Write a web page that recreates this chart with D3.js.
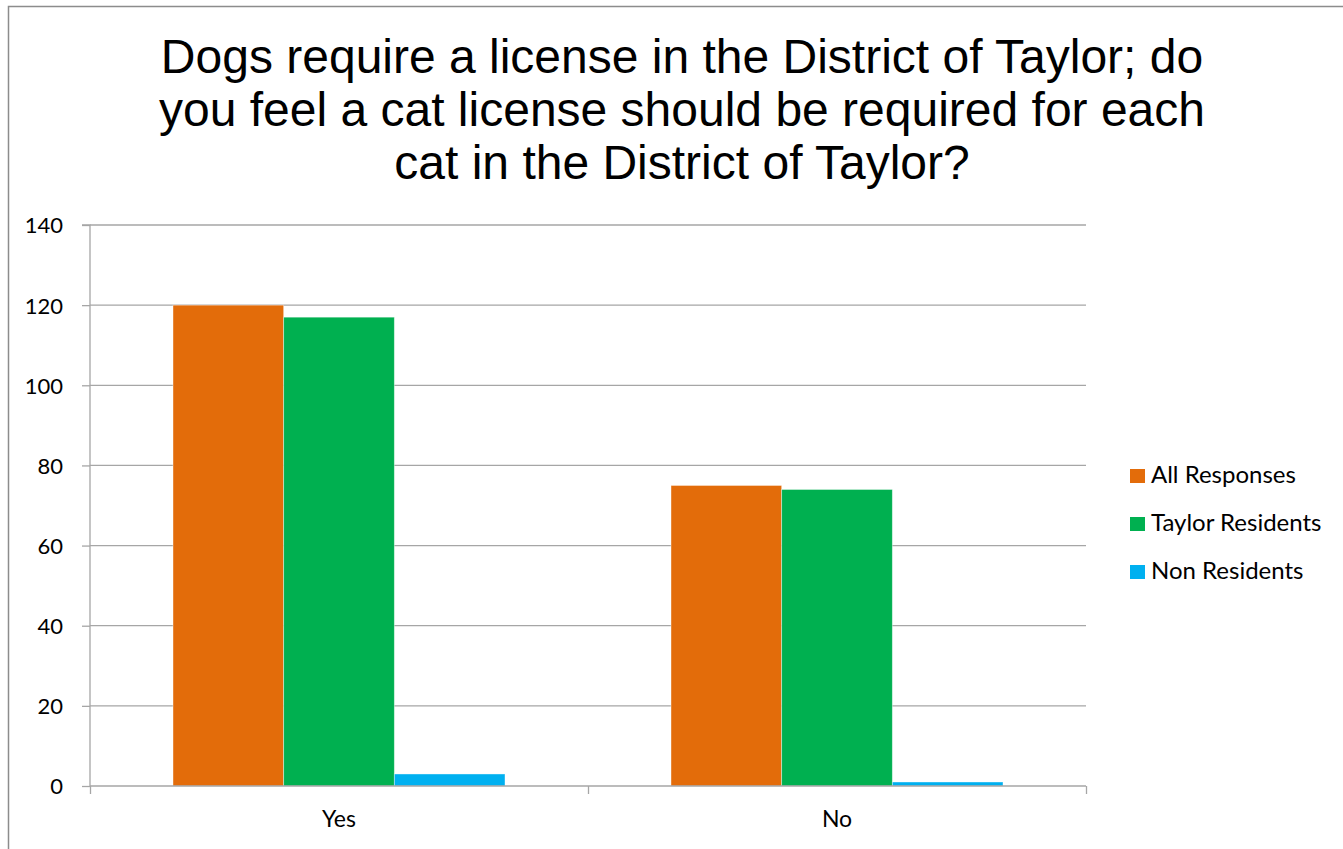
<!DOCTYPE html>
<html><head><meta charset="utf-8">
<script src="https://cdn.jsdelivr.net/npm/d3@7"></script>
<style>html,body{margin:0;padding:0;background:#fff;overflow:hidden}</style>
</head><body>
<svg id="c" width="1343" height="849"></svg>
<script>
const titleLines = ["Dogs require a license in the District of Taylor; do","you feel a cat license should be required for each","cat in the District of Taylor?"];
const categories = ["Yes","No"];
const seriesNames = ["All Responses","Taylor Residents","Non Residents"];
const allResponses = [120, 75];
const taylorResidents = [117, 74];
const nonResidents = [3, 1];
const yTicks = [0,20,40,60,80,100,120,140];
const colors = ["#E36C0A","#00B050","#00B0F0"];

(function(){
const seriesValues = [allResponses, taylorResidents, nonResidents];
const svg = d3.select("#c");
svg.append("rect").attr("x",8.5).attr("y",6.5).attr("width",1400).attr("height",900)
  .attr("fill","#fff").attr("stroke","#8c8c8c").attr("stroke-width",1.5);

const t = svg.append("text").attr("font-family","'Liberation Sans', Arial, sans-serif")
  .attr("font-size",48).attr("fill","#000").attr("text-anchor","middle");
titleLines.forEach((l,i)=>t.append("tspan").attr("x",682).attr("y",73+i*53).text(l));

const pL=90, pR=1086, pT=225, pB=786;
const x0 = d3.scaleBand().domain(categories).range([pL,pR]).paddingInner(0).paddingOuter(0);
const y = d3.scaleLinear().domain([0,140]).range([pB,pT]);
const bw = x0.bandwidth()/4.5;
const x1 = d3.scaleBand().domain(seriesNames).range([0, bw*3]);

const grid = svg.append("g");
yTicks.filter(v=>v>0).forEach(v=>{
  grid.append("line").attr("x1",pL).attr("x2",pR).attr("y1",y(v)).attr("y2",y(v))
    .attr("stroke","#a6a6a6").attr("stroke-width",1.3);
});

const bars = svg.append("g");
seriesNames.forEach((s,si)=>{
  categories.forEach((c,ci)=>{
    const v = seriesValues[si][ci];
    bars.append("rect")
      .attr("x", x0(c) + (x0.bandwidth()-bw*3)/2 + x1(s))
      .attr("y", y(v)).attr("width", x1.bandwidth()).attr("height", y(0)-y(v))
      .attr("fill", colors[si]).attr("stroke","#ffffff").attr("stroke-opacity",0.5).attr("stroke-width",0.8);
  });
});

const yAxis = d3.axisLeft(y).tickValues(yTicks).tickSize(8).tickPadding(19);
const ya = svg.append("g").attr("transform",`translate(${pL},0)`).call(yAxis);
ya.select(".domain").attr("stroke","#a6a6a6").attr("stroke-width",1.3).attr("d",`M-8,${pT}H0V${pB}`);
ya.selectAll(".tick line").attr("stroke","#a6a6a6").attr("stroke-width",1.3);
ya.selectAll(".tick text").attr("font-family","Lato, 'Open Sans', sans-serif").attr("font-size",22).attr("fill","#000").attr("dy","0.36em");

const xAxis = d3.axisBottom(d3.scaleLinear().domain([0,2]).range([pL,pR])).tickValues([0,1,2]).tickSize(8).tickFormat("");
const xa = svg.append("g").attr("transform",`translate(0,${pB})`).call(xAxis);
xa.select(".domain").attr("stroke","#a6a6a6").attr("stroke-width",1.3).attr("d",`M${pL},0H${pR}`);
xa.selectAll(".tick line").attr("stroke","#a6a6a6").attr("stroke-width",1.3);
categories.forEach(c=>{
  svg.append("text").attr("x", x0(c)+x0.bandwidth()/2).attr("y", 827)
    .attr("text-anchor","middle").attr("font-family","Lato, 'Open Sans', sans-serif").attr("font-size",23).text(c);
});

const lg = svg.append("g");
seriesNames.forEach((s,i)=>{
  const by = 483 + i*48;
  lg.append("rect").attr("x",1130).attr("y",by-14).attr("width",15).attr("height",14).attr("fill",colors[i]);
  lg.append("text").attr("x",1151).attr("y",by).attr("font-family","Lato, 'Open Sans', sans-serif")
    .attr("font-size",24).attr("fill","#000").text(s);
});
})();
</script>
</body></html>
